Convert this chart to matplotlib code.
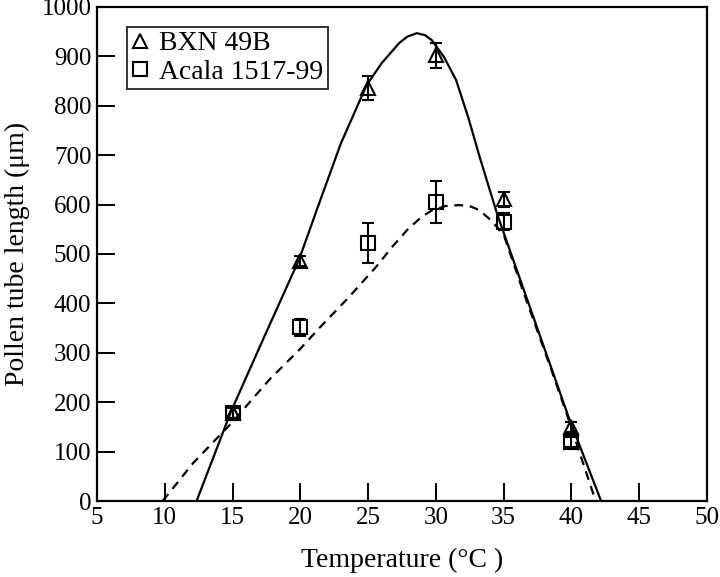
import matplotlib
matplotlib.use("Agg")
import matplotlib.pyplot as plt
from matplotlib.lines import Line2D

plt.rcParams['font.family'] = ['Liberation Serif', 'DejaVu Serif']

# measured means and error bars
temps = [15, 20, 25, 30, 35, 40]
bxn_mean = [178, 486, 836, 902, 611, 150]
bxn_err = [10, 10, 25, 26, 15, 10]
acala_mean = [178, 352, 522, 605, 565, 120]
acala_err = [10, 17, 40, 42, 17, 10]

# fitted response curves
bxn_fit_t = [12.35, 14.9, 17.4, 19.9, 21.4, 23.0, 24.9, 26.0, 27.3, 27.9,
             28.6, 29.2, 29.7, 30.6, 31.5, 32.4, 33.2, 34.0, 34.6, 39.8, 42.2]
bxn_fit_y = [0, 182, 336, 488, 603, 724, 842, 886, 927, 940,
             947, 943, 933, 899, 852, 776, 700, 628, 575, 170, 0]

acala_fit_t = [9.85, 12.1, 14.9, 17.7, 20.0, 21.4, 23.5, 25.6, 26.8, 28.0,
               29.0, 29.7, 30.7, 31.7, 32.5, 33.2, 34.0, 35.0, 36.5, 38.5,
               39.8, 41.8]
acala_fit_y = [0, 77, 157, 245, 308, 350, 410, 474, 515, 552,
               576, 588, 597, 599, 597, 589, 570, 540, 420, 268,
               165, 0]

fig = plt.figure(figsize=(7.2, 5.77), dpi=100)
ax = fig.add_axes([0.1347, 0.1317, 0.847, 0.8562])

ax.plot(bxn_fit_t, bxn_fit_y, color='black', lw=1.6)
ax.plot(acala_fit_t, acala_fit_y, color='black', lw=1.6, linestyle=(0, (4, 3)))

ax.errorbar(temps, bxn_mean, yerr=bxn_err, fmt='^', ms=10, mfc='none',
            mec='black', mew=1.5, ecolor='black', elinewidth=1.5,
            capsize=4, capthick=1.5)
ax.errorbar(temps, acala_mean, yerr=acala_err, fmt='s', ms=9.5, mfc='none',
            mec='black', mew=1.5, ecolor='black', elinewidth=1.5,
            capsize=4, capthick=1.5)

ax.set_xlim(5, 50)
ax.set_ylim(0, 1000)
ax.set_xticks(range(5, 51, 5))
ax.set_yticks(range(0, 1001, 100))
ax.tick_params(direction='in', length=13, width=1.4, labelsize=18, pad=4)
for s in ax.spines.values():
    s.set_linewidth(1.6)

ax.set_xlabel('Temperature (°C )', fontsize=20, labelpad=14)
ax.set_ylabel('Pollen tube length (μm)', fontsize=20, labelpad=8)

handles = [Line2D([], [], marker='^', ls='none', ms=10, mfc='none', mec='black', mew=1.5),
           Line2D([], [], marker='s', ls='none', ms=9.5, mfc='none', mec='black', mew=1.5)]
leg = ax.legend(handles, ['BXN 49B', 'Acala 1517-99'], loc='upper left',
                bbox_to_anchor=(0.05, 0.96), fontsize=20, frameon=True,
                fancybox=False, edgecolor='black', handlelength=0.6,
                handletextpad=0.4, borderpad=0.15, labelspacing=0.1,
                borderaxespad=0)
leg.get_frame().set_linewidth(1.4)

fig.savefig('out.png', dpi=100)
